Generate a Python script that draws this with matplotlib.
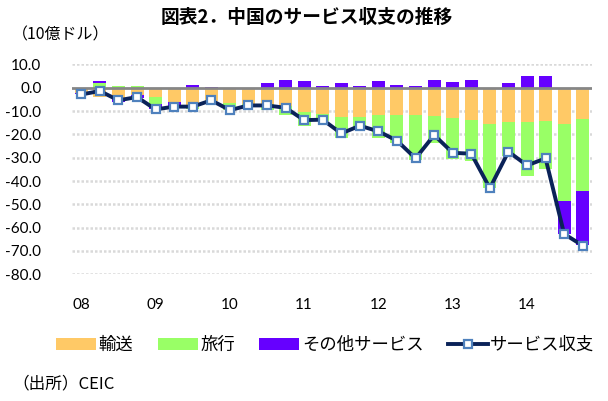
import matplotlib
matplotlib.use("Agg")
import matplotlib.pyplot as plt
import numpy as np
from matplotlib.patches import Patch
from matplotlib.lines import Line2D

# quarterly data 2008Q1 - 2014Q4 (10億ドル)
years = ["08", "09", "10", "11", "12", "13", "14"]
transport = [-2.3, -4.1, -5.0, -3.2, -3.9, -6.3, -8.1, -5.8, -6.7, -7.0, -7.0, -7.7, -10.6, -11.4,
             -12.4, -12.4, -11.7, -11.7, -11.7, -12.3, -13.0, -13.7, -15.4, -14.7, -14.7, -14.1, -15.6, -13.4]
travel = [0.0, 2.1, 0.6, 0.6, -2.9, 0.0, -1.0, 0.0, -2.9, -0.6, -2.5, -4.0, -6.0, -3.0,
          -9.0, -4.6, -9.7, -12.1, -19.2, -11.4, -17.4, -17.6, -27.6, -14.6, -23.3, -20.7, -33.1, -31.0]
other = [-0.6, 0.6, -1.0, -1.4, -2.5, -1.8, 1.0, 0.4, 0.0, 0.0, 1.9, 3.1, 2.7, 0.7,
         1.9, 0.7, 2.7, 1.3, 0.6, 3.1, 2.4, 3.1, 0.0, 1.9, 5.0, 5.0, -13.9, -23.2]
services_total = [-2.9, -1.4, -5.4, -4.0, -9.3, -8.1, -8.1, -5.4, -9.6, -7.6, -7.6, -8.6, -13.9, -13.7,
                  -19.6, -16.3, -18.7, -22.7, -30.3, -20.3, -27.9, -28.3, -43.1, -27.4, -33.3, -30.3, -62.7, -67.7]
series_names = ["輸送", "旅行", "その他サービス"]
line_name = "サービス収支"
yticks = [10, 0, -10, -20, -30, -40, -50, -60, -70, -80]

colors = ["#FFC966", "#99FF66", "#6600FF"]
line_color = "#0A2258"
marker_edge = "#4F81BD"

jp = ["Noto Sans CJK JP", "DejaVu Sans"]
num = ["Lato", "DejaVu Sans"]

fig = plt.figure(figsize=(6.08, 4.01), dpi=100)
ax = fig.add_axes([72 / 608, 1 - 274.3 / 401, 520 / 608, 209.9 / 401])

x = np.arange(len(transport))
pos_bottom = np.zeros(len(x))
neg_bottom = np.zeros(len(x))
for vals, c in zip([transport, travel, other], colors):
    v = np.array(vals, dtype=float)
    bottom = np.where(v >= 0, pos_bottom, neg_bottom)
    ax.bar(x, v, bottom=bottom, width=0.7, color=c, zorder=2, linewidth=0)
    pos_bottom = pos_bottom + np.where(v >= 0, v, 0)
    neg_bottom = neg_bottom + np.where(v < 0, v, 0)

ax.axhline(0, color="#868686", lw=2.0, zorder=3)
ax.plot(x, services_total, color=line_color, lw=2.8, marker="s", markersize=5.5,
        markerfacecolor="white", markeredgecolor=marker_edge, markeredgewidth=1.6, zorder=4)

ax.set_xlim(-0.5, len(x) - 0.5)
ax.set_ylim(-80, 10)
ax.set_yticks(yticks)
ax.set_yticklabels([f"{t:.1f}" for t in yticks], family=num, fontsize=11)
ax.set_xticks(np.arange(0, len(x), 4))
ax.set_xticklabels(years, family=num, fontsize=11)
ax.tick_params(axis="both", length=0)
ax.tick_params(axis="y", pad=22)
ax.tick_params(axis="x", pad=17)
for t in yticks:
    if t != 0:
        ax.axhline(t, color="#D9D9D9", lw=1.8, linestyle=(0, (1, 0.8)), zorder=1)
for s in ax.spines.values():
    s.set_visible(False)

fig.text(0.505, 1 - 17 / 401, "図表2．中国のサービス収支の推移", family=jp, fontsize=13.5,
         fontweight="bold", ha="center", va="center")
fig.text(12 / 608, 1 - 35 / 401, "（10億ドル）", family=jp, fontsize=11.5, ha="left", va="center")
fig.text(12 / 608, 1 - 384 / 401, "（出所）CEIC", family=jp, fontsize=12, ha="left", va="center")

handles = [Patch(facecolor=c, edgecolor="none") for c in colors]
handles.append(Line2D([0], [0], color=line_color, lw=2.8, marker="s", markersize=5.5,
                      markerfacecolor="white", markeredgecolor=marker_edge, markeredgewidth=1.6))
leg = fig.legend(handles, series_names + [line_name], loc="center", ncol=4,
                 bbox_to_anchor=(0.535, 1 - 345 / 401), frameon=False,
                 prop={"family": jp, "size": 12.5}, handlelength=2.3, handleheight=0.75,
                 handletextpad=0.15, columnspacing=1.4, borderaxespad=0)

fig.savefig("out.png", dpi=100)
